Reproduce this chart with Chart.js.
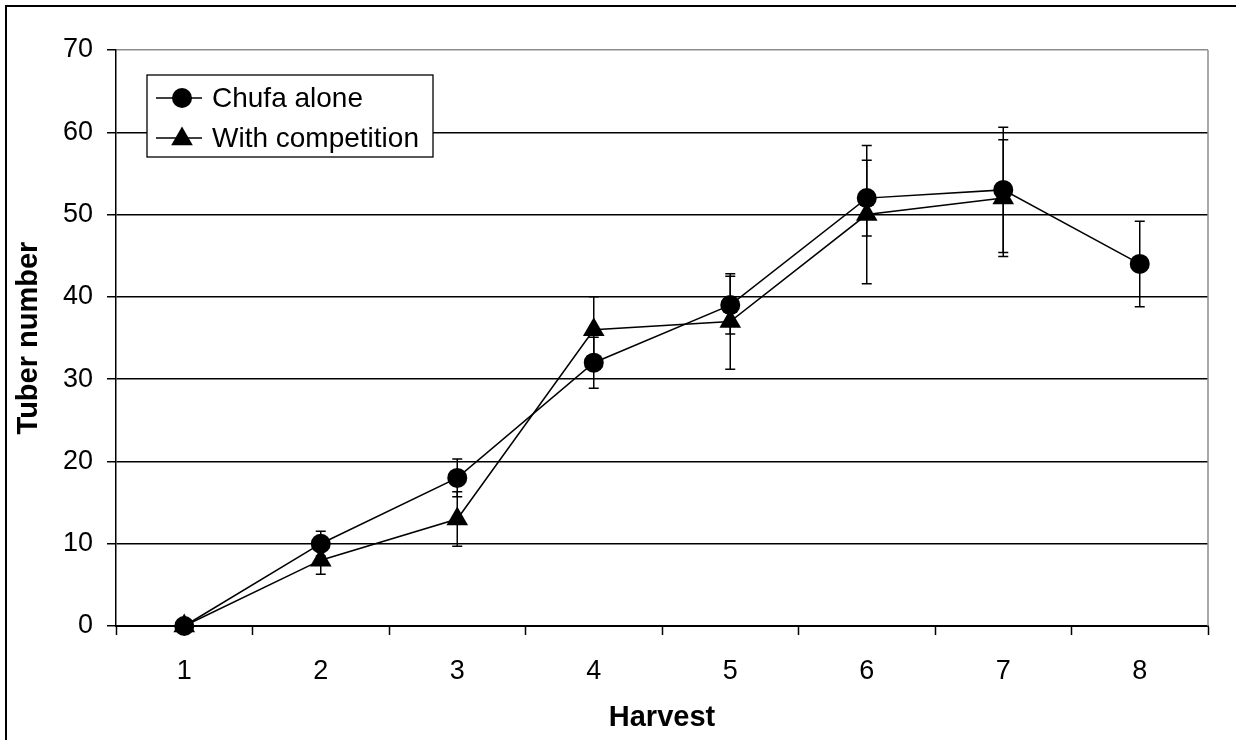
<!DOCTYPE html>
<html>
<head>
<meta charset="utf-8">
<script src="https://cdn.jsdelivr.net/npm/chart.js@4.4.1/dist/chart.umd.min.js"></script>
<style>
  html, body { margin: 0; padding: 0; background: #fff; }
  #wrap { width: 1236px; height: 740px; }
</style>
</head>
<body>
<div id="wrap"><canvas id="c" width="1236" height="740"></canvas></div>
<script>
const categories = ['1', '2', '3', '4', '5', '6', '7', '8'];
const chufaAlone = [0, 10, 18, 32, 39, 52, 53, 44];
const chufaAloneErr = [0, 1.5, 2.3, 3.1, 3.5, 4.6, 7.6, 5.2];
const withCompetition = [0, 8, 13, 36, 37, 50, 52, null];
const withCompetitionErr = [0, 1.7, 3.3, 4.0, 5.8, 8.4, 7.1, null];
const yTicks = [0, 10, 20, 30, 40, 50, 60, 70];
const seriesLabels = ['Chufa alone', 'With competition'];
const xTitle = 'Harvest';
const yTitle = 'Tuber number';

const FONT = "'Liberation Sans', Arial, sans-serif";

const errorBars = {
  id: 'errorBars',
  beforeDatasetsDraw(chart) {
    const ctx = chart.ctx;
    const ys = chart.scales.y;
    const errs = [chufaAloneErr, withCompetitionErr];
    ctx.save();
    ctx.strokeStyle = '#000';
    ctx.lineWidth = 1.5;
    chart.data.datasets.forEach((ds, di) => {
      const meta = chart.getDatasetMeta(di);
      ds.data.forEach((v, i) => {
        const e = errs[di][i];
        if (v == null || !e) return;
        const x = meta.data[i].x;
        const yTop = ys.getPixelForValue(v + e);
        const yBot = ys.getPixelForValue(v - e);
        ctx.beginPath();
        ctx.moveTo(x, yTop); ctx.lineTo(x, yBot);
        ctx.moveTo(x - 5, yTop); ctx.lineTo(x + 5, yTop);
        ctx.moveTo(x - 5, yBot); ctx.lineTo(x + 5, yBot);
        ctx.stroke();
      });
    });
    ctx.restore();
  }
};

const frame = {
  id: 'frame',
  beforeDraw(chart) {
    const ctx = chart.ctx;
    ctx.save();
    ctx.fillStyle = '#fff';
    ctx.fillRect(0, 0, chart.width, chart.height);
    ctx.restore();
  },
  afterDraw(chart) {
    const ctx = chart.ctx;
    const a = chart.chartArea;
    ctx.save();
    // plot area right edge (grey)
    ctx.strokeStyle = '#8c8c8c';
    ctx.lineWidth = 1.5;
    ctx.beginPath();
    ctx.moveTo(a.right, a.top);
    ctx.lineTo(a.right, a.bottom);
    ctx.stroke();
    // outer frame
    ctx.strokeStyle = '#000';
    ctx.lineWidth = 2;
    ctx.strokeRect(6, 6, chart.width + 20, chart.height + 20);
    // legend
    const lx = 147, ly = 75, lw = 286, lh = 82;
    ctx.fillStyle = '#fff';
    ctx.fillRect(lx, ly, lw, lh);
    ctx.strokeStyle = '#000';
    ctx.lineWidth = 1.3;
    ctx.strokeRect(lx, ly, lw, lh);
    const rows = [98, 138];
    chart.data.datasets.forEach((ds, i) => {
      const y = rows[i];
      ctx.strokeStyle = '#000';
      ctx.lineWidth = 1.5;
      ctx.beginPath();
      ctx.moveTo(156, y); ctx.lineTo(202, y);
      ctx.stroke();
      ctx.fillStyle = '#000';
      ctx.beginPath();
      if (ds.pointStyle === 'circle') {
        ctx.arc(182, y, 10, 0, Math.PI * 2);
      } else {
        const r = 12.5;
        ctx.moveTo(182, y - r + 1);
        ctx.lineTo(182 + r * Math.sqrt(3) / 2, y + r / 2 + 1);
        ctx.lineTo(182 - r * Math.sqrt(3) / 2, y + r / 2 + 1);
        ctx.closePath();
      }
      ctx.fill();
      ctx.font = '28px ' + FONT;
      ctx.textBaseline = 'middle';
      ctx.textAlign = 'left';
      ctx.fillText(ds.label, 212, y + 1);
    });
    ctx.restore();
  }
};

new Chart(document.getElementById('c'), {
  type: 'line',
  data: {
    labels: categories,
    datasets: [
      {
        label: seriesLabels[0],
        data: chufaAlone,
        borderColor: '#000',
        backgroundColor: '#000',
        borderWidth: 1.5,
        pointStyle: 'circle',
        pointRadius: 10,
        pointHoverRadius: 10,
        pointBorderWidth: 0,
        tension: 0,
        clip: false,
        order: 2
      },
      {
        label: seriesLabels[1],
        data: withCompetition,
        borderColor: '#000',
        backgroundColor: '#000',
        borderWidth: 1.5,
        pointStyle: 'triangle',
        pointRadius: 12.5,
        pointHoverRadius: 12.5,
        pointBorderWidth: 0,
        tension: 0,
        spanGaps: false,
        clip: false,
        order: 1
      }
    ]
  },
  options: {
    responsive: false,
    animation: false,
    events: [],
    layout: { padding: { left: 0, top: 50, right: 28, bottom: 0 } },
    plugins: {
      legend: { display: false },
      tooltip: { enabled: false }
    },
    scales: {
      x: {
        type: 'category',
        offset: true,
        grid: {
          display: true,
          drawOnChartArea: false,
          drawTicks: true,
          tickLength: 9,
          tickColor: '#000',
          tickWidth: 1.5,
          offset: true
        },
        border: { display: true, color: '#000', width: 2 },
        ticks: {
          color: '#000',
          font: { family: FONT, size: 27 },
          padding: 20,
          maxRotation: 0
        },
        title: {
          display: true,
          text: xTitle,
          color: '#000',
          font: { family: FONT, size: 29, weight: 'bold' },
          padding: { top: 0, bottom: 5 }
        },
        afterFit(scale) { scale.height = 114; }
      },
      y: {
        min: 0,
        max: 70,
        afterBuildTicks(scale) { scale.ticks = yTicks.map(v => ({ value: v })); },
        grid: {
          color: (c) => (c.tick && c.tick.value === 70) ? '#8c8c8c' : '#000',
          lineWidth: 1.5,
          drawTicks: true,
          tickLength: 9,
          tickColor: '#000',
          tickWidth: 1.5
        },
        border: { display: true, color: '#000', width: 1.5 },
        ticks: {
          color: '#000',
          font: { family: FONT, size: 27 },
          padding: 14
        },
        title: {
          display: true,
          text: yTitle,
          color: '#000',
          font: { family: FONT, size: 29, weight: 'bold' },
          padding: { top: 12, bottom: 0 }
        },
        afterFit(scale) { scale.width = 116; }
      }
    }
  },
  plugins: [frame, errorBars]
});
</script>
</body>
</html>
